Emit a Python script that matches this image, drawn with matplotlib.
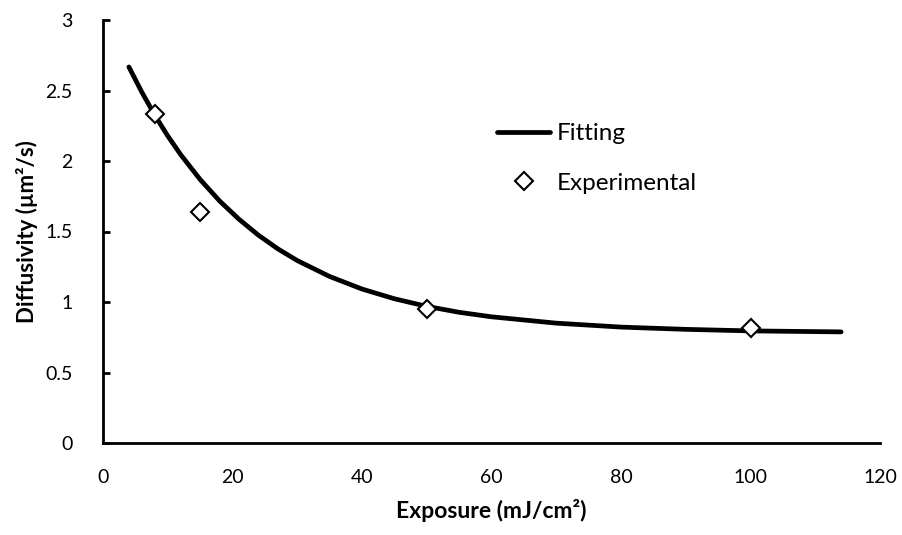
import matplotlib
matplotlib.use('Agg')
import matplotlib.pyplot as plt

plt.rcParams['font.family'] = ['Lato', 'DejaVu Sans']

# fitted curve
fit_x = [4, 6, 8, 10, 12, 15, 18, 21, 24, 27, 30, 35, 40, 45, 50, 55, 60, 70, 80, 90, 100, 114]
fit_y = [2.667, 2.488, 2.325, 2.178, 2.045, 1.869, 1.717, 1.587, 1.474, 1.377, 1.294,
         1.181, 1.092, 1.023, 0.969, 0.927, 0.895, 0.850, 0.822, 0.806, 0.795, 0.788]

# measured points
exp_x = [8, 15, 50, 100]
exp_y = [2.33, 1.64, 0.95, 0.815]

x_ticks = [0, 20, 40, 60, 80, 100, 120]
y_ticks = [0, 0.5, 1, 1.5, 2, 2.5, 3]

fig = plt.figure(figsize=(9.02, 5.35), dpi=100)
ax = fig.add_axes([103 / 902, 1 - 443 / 535, 777 / 902, 423 / 535])

ax.plot(fit_x, fit_y, color='black', lw=3.4, solid_capstyle='round', label='Fitting')
ax.plot(exp_x, exp_y, ls='none', marker='D', ms=9.5, mfc='white', mec='black',
        mew=1.5, label='Experimental')

ax.set_xlim(0, 120)
ax.set_ylim(0, 3)
ax.set_xticks(x_ticks)
ax.set_yticks(y_ticks)
ax.set_xticklabels([str(v) for v in x_ticks])
ax.set_yticklabels(['0', '0.5', '1', '1.5', '2', '2.5', '3'])

for s in ['top', 'right']:
    ax.spines[s].set_visible(False)
for s in ['left', 'bottom']:
    ax.spines[s].set_linewidth(2)

ax.tick_params(axis='x', length=0, pad=19, labelsize=14)
ax.tick_params(axis='y', direction='in', length=5, width=2, pad=22, labelsize=14)

ax.set_xlabel('Exposure (mJ/cm²)', fontsize=16.5, fontweight='bold', labelpad=9)
ax.set_ylabel('Diffusivity (µm²/s)', fontsize=16, fontweight='bold', labelpad=5)

ax.legend(loc='upper left', bbox_to_anchor=(0.507, 0.756), frameon=False, fontsize=17.5,
          borderpad=0, borderaxespad=0, handlelength=2.2, handletextpad=0.25,
          labelspacing=1.18)

fig.savefig('out.png', dpi=100)
